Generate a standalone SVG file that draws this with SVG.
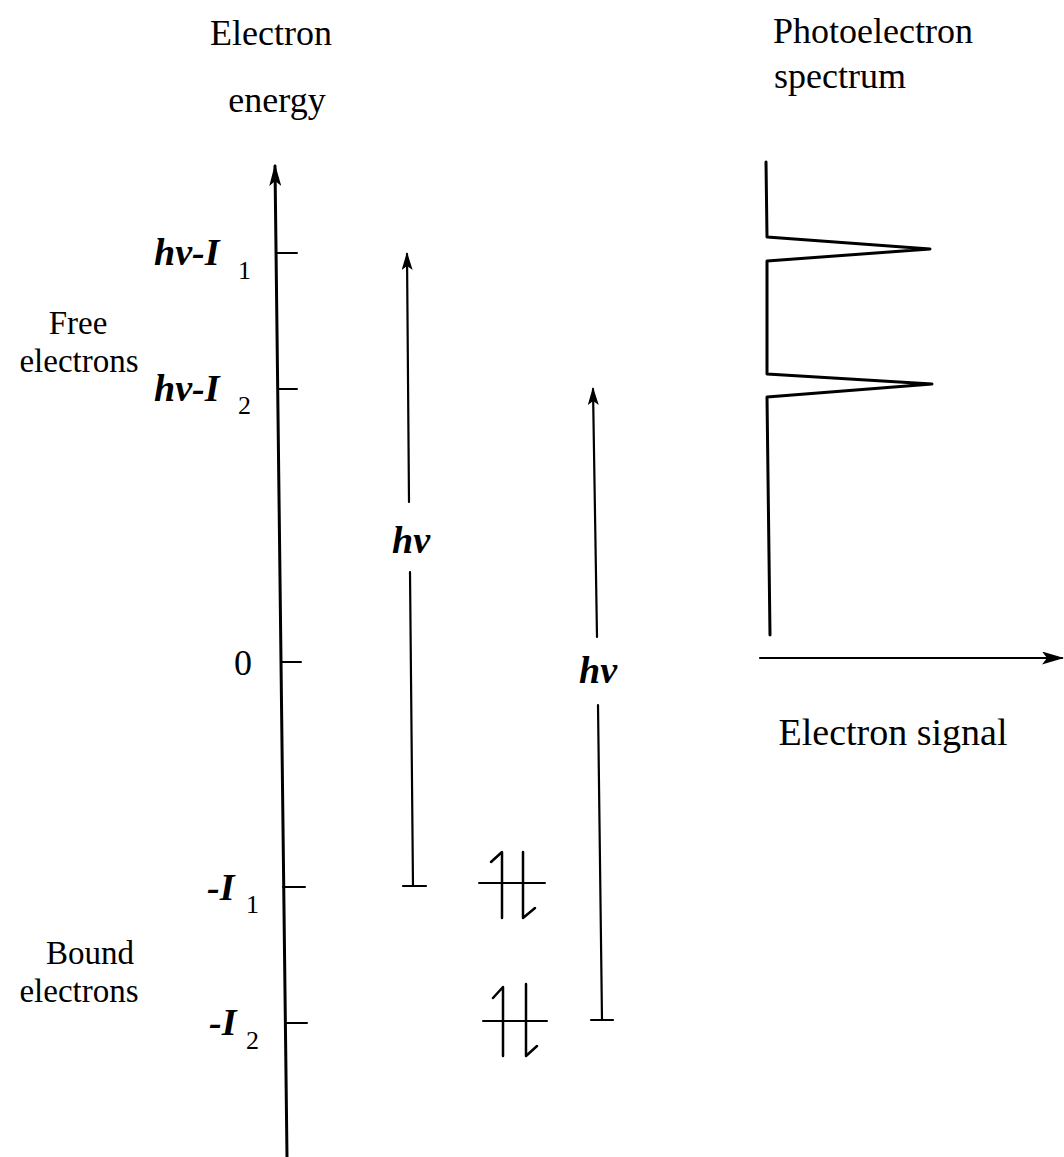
<svg xmlns="http://www.w3.org/2000/svg" width="1064" height="1157" viewBox="0 0 1064 1157">
<style>
.t{font-family:"Liberation Serif","Times New Roman",serif;font-size:36px;fill:#000}
.sl{font-family:"Liberation Serif","Times New Roman",serif;font-size:33px;fill:#000}
.i{font-family:"Liberation Serif","Times New Roman",serif;font-style:italic;font-weight:bold;font-size:38px;fill:#000}
.s{font-family:"Liberation Serif","Times New Roman",serif;font-size:26px;fill:#000}
.ln{stroke:#000;fill:none;stroke-linecap:round;stroke-linejoin:round}
</style>
<defs>
<marker id="ah" markerWidth="22" markerHeight="12" refX="20" refY="6" orient="auto-start-reverse" markerUnits="userSpaceOnUse" viewBox="0 0 22 12">
<path d="M22,6 L0,0 L5,6 L0,12 Z" fill="#000"/>
</marker>
<marker id="ahs" markerWidth="18" markerHeight="11" refX="16" refY="5.5" orient="auto-start-reverse" markerUnits="userSpaceOnUse" viewBox="0 0 18 11">
<path d="M18,5.5 L0,0 L4,5.5 L0,11 Z" fill="#000"/>
</marker>
<marker id="ahx" markerWidth="22" markerHeight="13" refX="20" refY="6.5" orient="auto" markerUnits="userSpaceOnUse" viewBox="0 0 22 13">
<path d="M22,6.5 L0,0 L5,6.5 L0,13 Z" fill="#000"/>
</marker>
</defs>

<g id="headers">
<text class="t" x="271" y="45" text-anchor="middle">Electron</text>
<text class="t" x="277" y="112" text-anchor="middle">energy</text>
<text class="t" x="873" y="43" text-anchor="middle">Photoelectron</text>
<text class="t" x="840" y="88" text-anchor="middle">spectrum</text>
</g>

<g id="side-labels">
<text class="sl" x="78" y="334" text-anchor="middle">Free</text>
<text class="sl" x="79" y="372" text-anchor="middle">electrons</text>
<text class="sl" x="90" y="964" text-anchor="middle">Bound</text>
<text class="sl" x="79" y="1002" text-anchor="middle">electrons</text>
</g>

<g id="energy-axis">
<line class="ln" x1="275" y1="166" x2="287" y2="1157" stroke-width="3" marker-start="url(#ah)"/>
<line class="ln" x1="276" y1="253" x2="297" y2="253" stroke-width="2"/>
<line class="ln" x1="278" y1="389" x2="297" y2="389" stroke-width="2"/>
<line class="ln" x1="281" y1="662" x2="301" y2="662" stroke-width="2"/>
<line class="ln" x1="283" y1="887" x2="305" y2="887" stroke-width="2"/>
<line class="ln" x1="285" y1="1023" x2="307" y2="1023" stroke-width="2"/>
</g>

<g id="axis-labels">
<text class="i" x="154" y="265">hv-I</text>
<text class="s" x="238" y="279">1</text>
<text class="i" x="154" y="401">hv-I</text>
<text class="s" x="238" y="414">2</text>
<text class="t" x="243" y="675" text-anchor="middle">0</text>
<text class="i" x="207" y="900">-I</text>
<text class="s" x="246" y="913">1</text>
<text class="i" x="209" y="1035">-I</text>
<text class="s" x="246" y="1049">2</text>
</g>

<g id="photon-1">
<line class="ln" x1="407" y1="254" x2="409" y2="502" stroke-width="2.2" marker-start="url(#ahs)"/>
<line class="ln" x1="410" y1="572" x2="413" y2="886" stroke-width="2.2"/>
<line class="ln" x1="403" y1="886" x2="426" y2="886" stroke-width="2.2"/>
<text class="i" x="411" y="553" text-anchor="middle">hv</text>
</g>

<g id="photon-2">
<line class="ln" x1="593" y1="389" x2="597" y2="637" stroke-width="2.2" marker-start="url(#ahs)"/>
<line class="ln" x1="598" y1="705" x2="602" y2="1020" stroke-width="2.2"/>
<line class="ln" x1="591" y1="1020" x2="613" y2="1020" stroke-width="2.2"/>
<text class="i" x="598" y="683" text-anchor="middle">hv</text>
</g>

<g id="level-1">
<line class="ln" x1="479" y1="883" x2="545" y2="883" stroke-width="2"/>
<path class="ln" d="M491,862 L502,852 L502,918" stroke-width="2.5"/>
<path class="ln" d="M523,852 L523,918 L535,908" stroke-width="2.5"/>
</g>

<g id="level-2">
<line class="ln" x1="483" y1="1021" x2="547" y2="1021" stroke-width="2"/>
<path class="ln" d="M493,998 L503,987 L503,1056" stroke-width="2.5"/>
<path class="ln" d="M526,984 L526,1056 L537,1046" stroke-width="2.5"/>
</g>

<g id="spectrum">
<path class="ln" d="M766,162 L767,237 L930,249 L767,261 L767,374 L932,384 L767,397 L770,635" stroke-width="3"/>
<line class="ln" x1="760" y1="658" x2="1062" y2="658" stroke-width="2.2" marker-end="url(#ahx)"/>
<text class="t" x="893" y="745" text-anchor="middle" style="font-size:38px">Electron signal</text>
</g>
</svg>
